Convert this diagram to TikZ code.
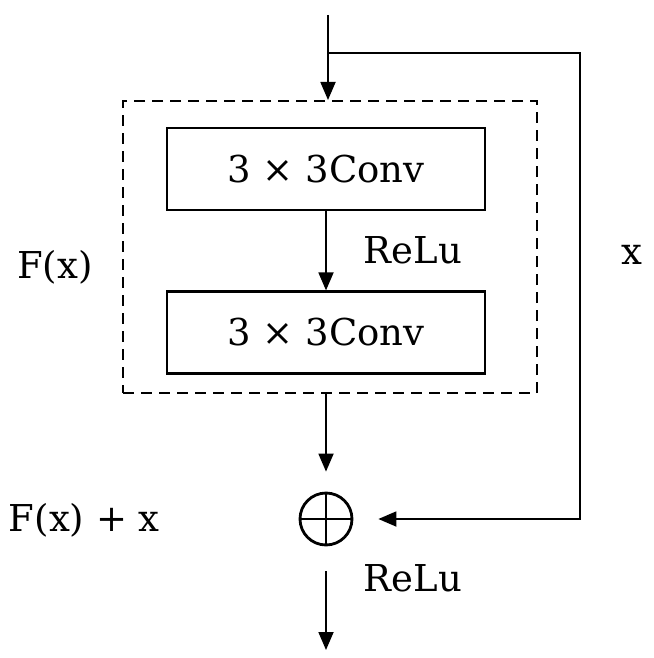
\documentclass[tikz,border=0pt]{standalone}
\usepackage{fontspec}
\setmainfont{DejaVu Serif}
\usetikzlibrary{arrows.meta,calc}
\begin{document}
\begin{tikzpicture}[x=1pt,y=-1pt,
  line width=1.8pt,
  arr/.style={-{Triangle[length=18pt,width=15pt]}},
  bigfont/.style={font=\fontsize{37}{44}\selectfont},
  convbox/.style={draw, line width=2.2pt, minimum width=318pt, minimum height=82pt, inner sep=0pt, bigfont},
  dashbox/.style={draw, line width=2pt, dash pattern=on 11pt off 7pt, minimum width=414pt, minimum height=292pt, inner sep=0pt},
  lbl/.style={inner sep=0pt, bigfont},
  sumnode/.style={draw, circle, line width=2.8pt, minimum size=52pt, inner sep=0pt,
    path picture={\draw[line width=2.8pt] (path picture bounding box.north) -- (path picture bounding box.south)
      (path picture bounding box.west) -- (path picture bounding box.east);}}
]
\useasboundingbox (0,0) rectangle (653,658);
\node[dashbox] (fx) at (330,247) {};
\node[convbox] (c1) at (326,169) {3 × 3Conv};
\node[convbox] (c2) at (326,332.5) {3 × 3Conv};
\node[sumnode] (sum) at (326,519) {};
\coordinate (in) at (328,15);
\coordinate (br) at (328,53);
\coordinate (rc) at (580,53);
\coordinate (out) at (326,650);
\draw[arr] (in) -- (in |- fx.north);
\draw[arr, shorten >=25pt] (br) -- (rc) |- (sum.east);
\draw[arr] (c1) -- (c2);
\draw[arr, shorten >=20pt] (sum |- fx.south) -- (sum.north);
\draw[arr, shorten <=25pt] (sum.south) -- (out);
\node[lbl, anchor=west] (r1) at (363,250) {ReLu};
\node[lbl, anchor=west] (r2) at (363,578) {ReLu};
\node[lbl] (xl) at (632,255) {x};
\node[lbl] (fl) at (55,267) {F(x)};
\node[lbl, anchor=west] (fxl) at (8,520) {F(x) + x};
\end{tikzpicture}
\end{document}
